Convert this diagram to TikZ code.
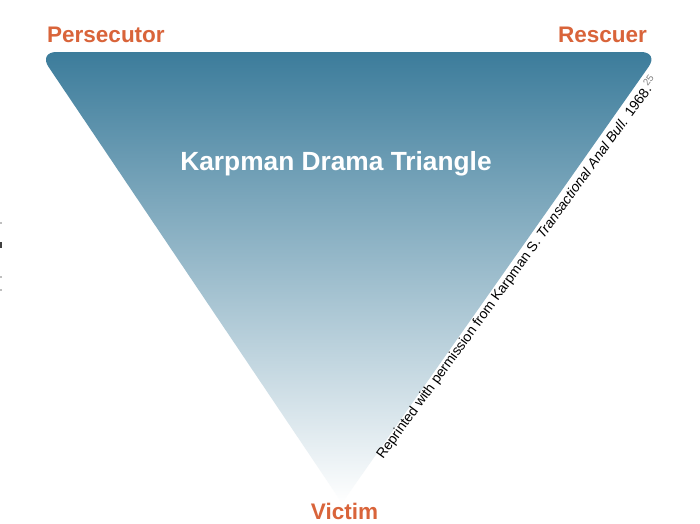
\documentclass[tikz,border=0pt]{standalone}
\usepackage{fontspec}
\setmainfont{Liberation Sans}
\definecolor{orangelbl}{RGB}{217,100,58}
\definecolor{topblue}{RGB}{60,124,155}
\definecolor{midblue}{RGB}{155,175,199}
\definecolor{botblue}{RGB}{255,255,255}
\begin{document}
\begin{tikzpicture}[x=1pt,y=-1pt,
  role/.style={font=\bfseries\fontsize{22.5}{27}\selectfont, text=orangelbl, inner sep=0pt},
  titletext/.style={font=\bfseries\fontsize{26.3}{31}\selectfont, text=white, inner sep=0pt},
  citetext/.style={font=\fontsize{13.9}{17}\selectfont, text=black, inner sep=0pt}]
\useasboundingbox (0,0) rectangle (700,523);
\fill[white] (0,0) rectangle (700,523);
\coordinate (mt) at (348,52);
\coordinate (tl) at (38.5,52);
\coordinate (tr) at (659,52);
\coordinate (ap) at (342,503);
\shade[top color=topblue, middle color=midblue, bottom color=botblue]
  (mt) [rounded corners=18pt] -- (tr) [sharp corners] -- (ap) [rounded corners=18pt] -- (tl) -- cycle;
\node[role, anchor=base west] (pers) at (47,42) {Persecutor};
\node[role, anchor=base east] (resc) at (647,42) {Rescuer};
\node[role, anchor=base] (vict) at (344.5,519) {Victim};
\node[titletext, anchor=base] (title) at (336,170) {Karpman Drama Triangle};
\node[citetext, anchor=base west, rotate=54] (cite) at (383,460)
  {Reprinted with permission from Karpman S. \textit{Transactional Anal Bull.} 1968.\textsuperscript{\textcolor{gray}{25}}};
\fill[black!75] (0,242) rectangle (2,248);
\fill[black!25] (0,222) rectangle (1.5,224);
\fill[black!25] (0,276) rectangle (1.5,278);
\fill[black!25] (0,289) rectangle (1.5,291);
\end{tikzpicture}
\end{document}
